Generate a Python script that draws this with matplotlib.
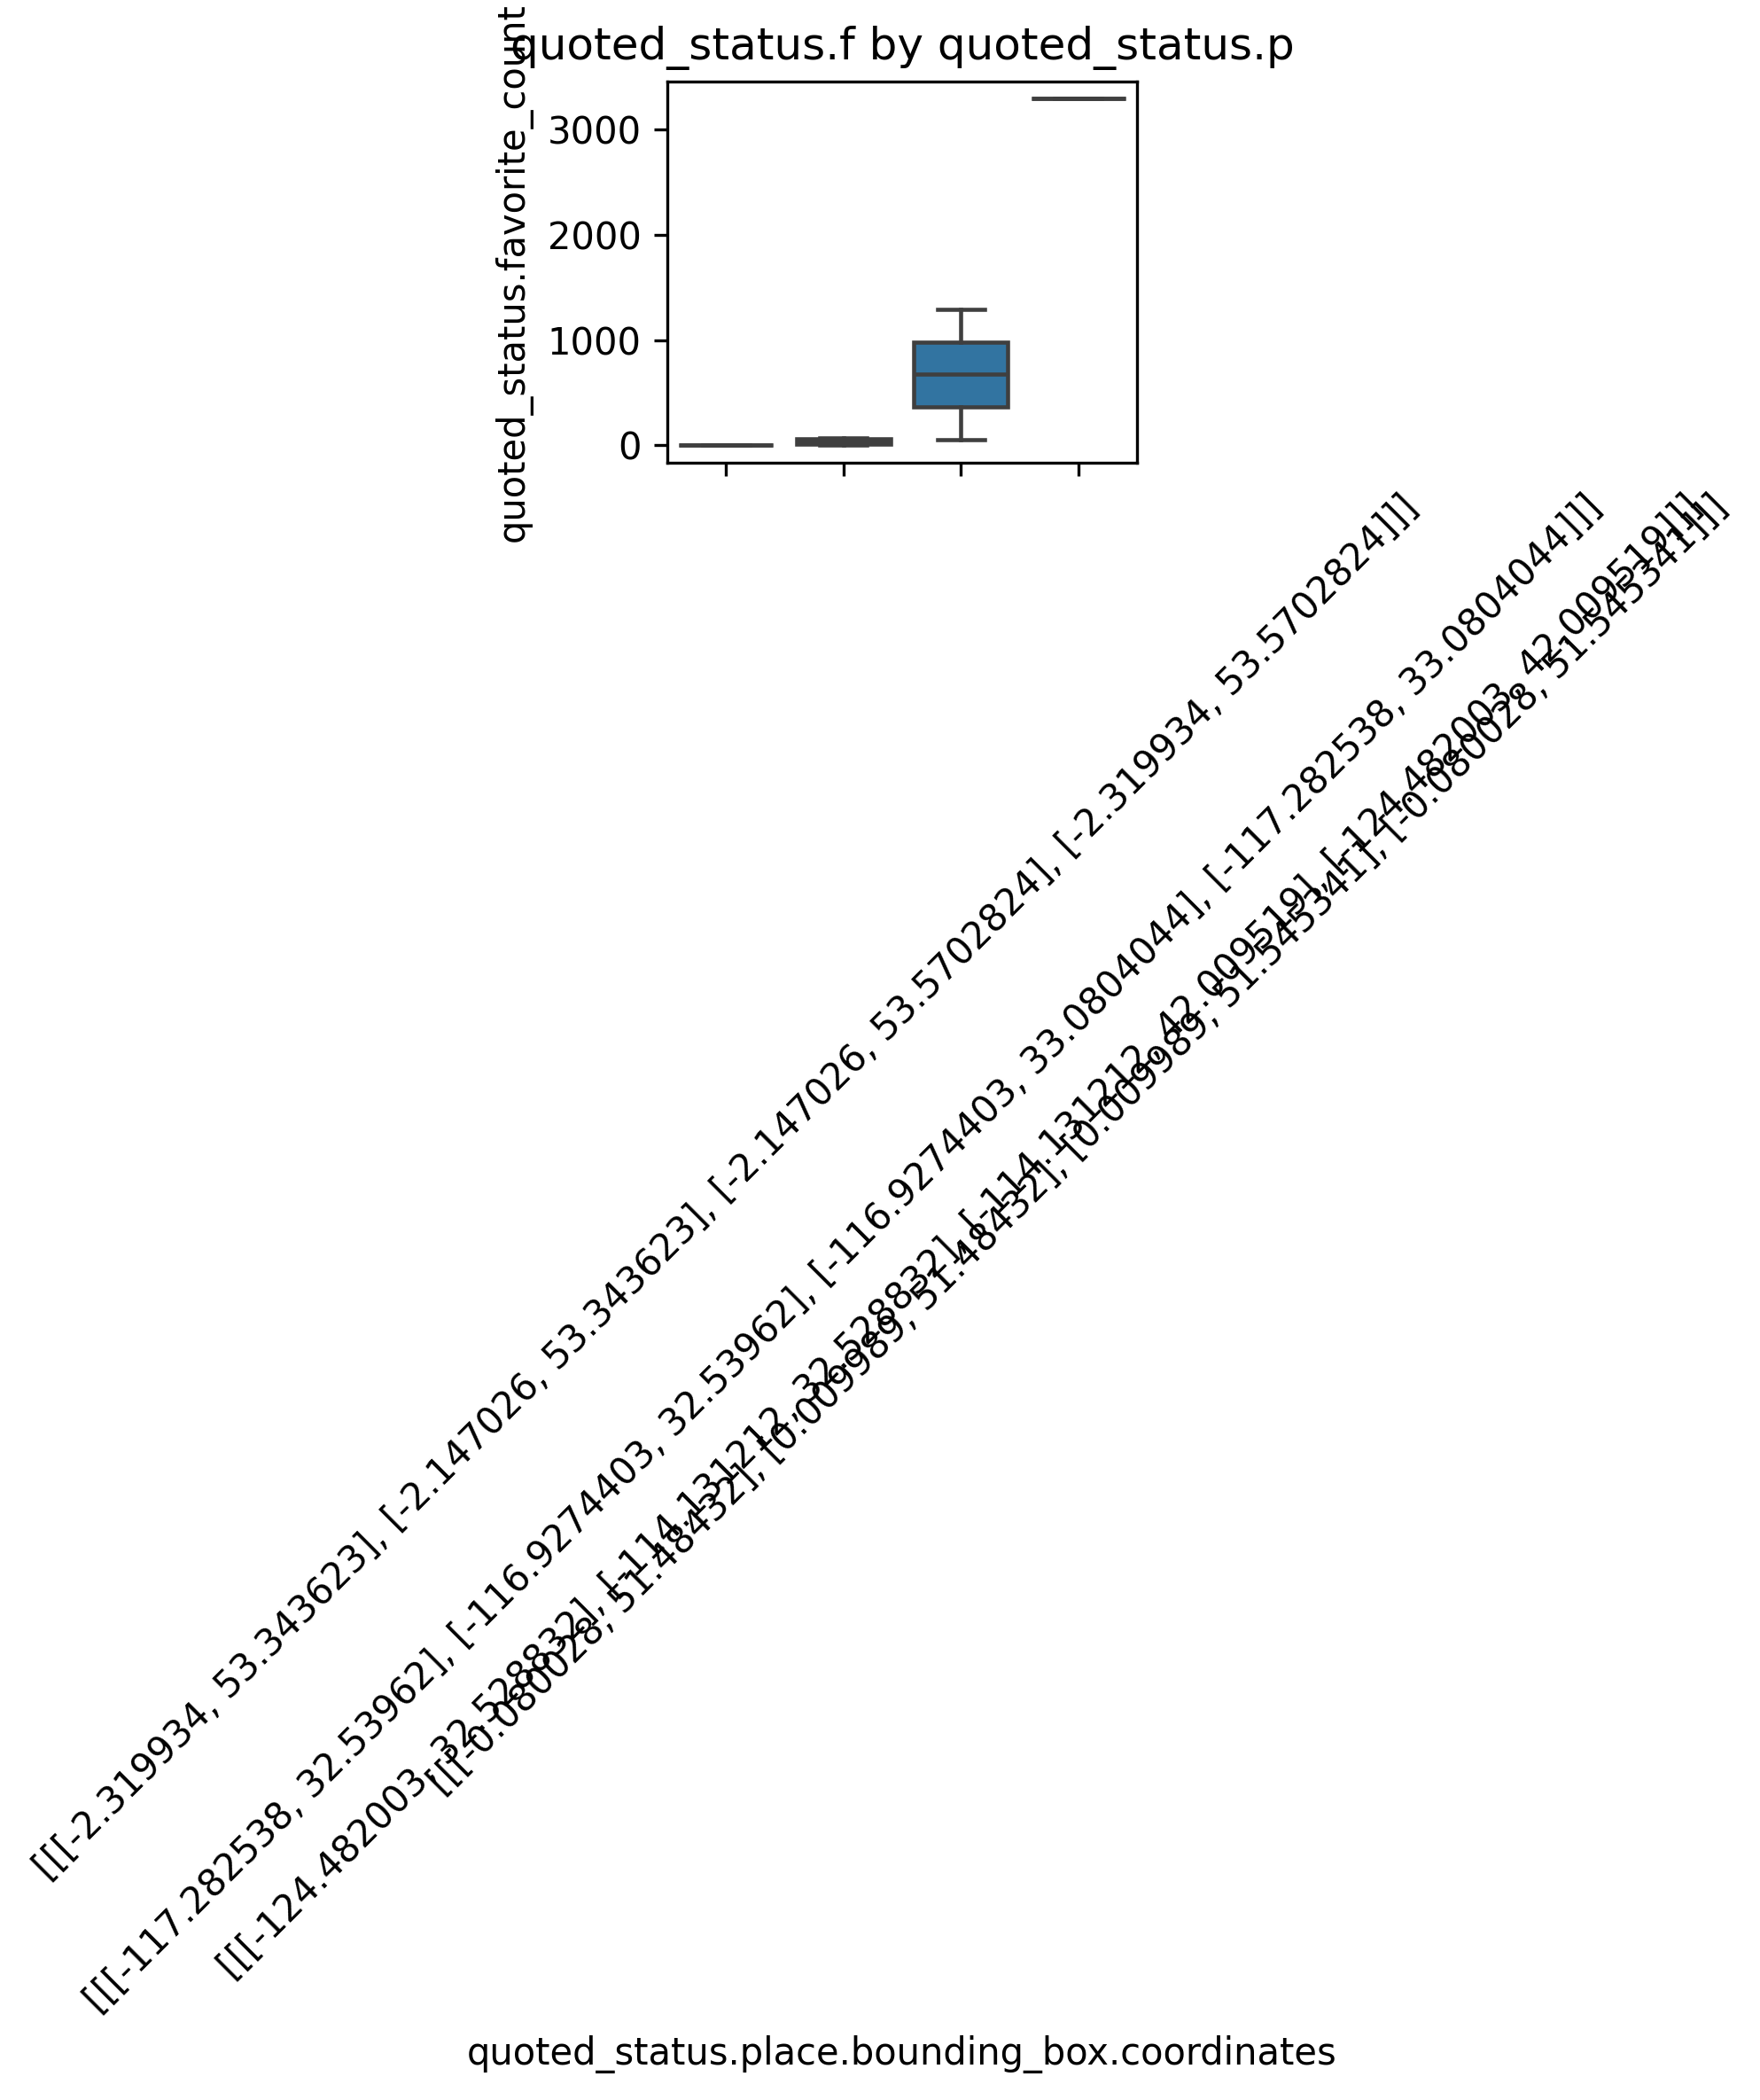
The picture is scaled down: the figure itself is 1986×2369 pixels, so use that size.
import matplotlib
matplotlib.use("Agg")
import matplotlib.pyplot as plt

# categories (bounding box coordinates as strings)
cats = [
    "[[[-2.319934, 53.343623], [-2.147026, 53.343623], [-2.147026, 53.5702824], [-2.319934, 53.5702824]]]",
    "[[[-117.282538, 32.53962], [-116.9274403, 32.53962], [-116.9274403, 33.0804044], [-117.282538, 33.0804044]]]",
    "[[[-124.482003, 32.528832], [-114.131212, 32.528832], [-114.131212, 42.009519], [-124.482003, 42.009519]]]",
    "[[[-0.080028, 51.48432], [0.009989, 51.48432], [0.009989, 51.545341], [-0.080028, 51.545341]]]",
]

# box statistics
whis_lo = [0, 4, 53, 3290]
q1 = [0, 14, 367, 3290]
med = [0, 38, 675, 3290]
q3 = [0, 62, 977, 3290]
whis_hi = [0, 72, 1291, 3290]

stats = []
for i in range(len(cats)):
    stats.append(dict(whislo=whis_lo[i], q1=q1[i], med=med[i], q3=q3[i],
                      whishi=whis_hi[i], fliers=[], label=cats[i]))

fig = plt.figure(figsize=(1986 / 300, 2369 / 300), dpi=300)
ax = fig.add_axes([0.3792, 0.7797, 0.2668, 0.1815])

line_col = "#3f3f3f"
lw = 1.1
pos = list(range(len(cats)))
ax.bxp(stats, positions=pos, widths=0.8, patch_artist=True, showfliers=False,
       boxprops=dict(facecolor="#3274a1", edgecolor=line_col, linewidth=lw),
       medianprops=dict(color=line_col, linewidth=lw),
       whiskerprops=dict(color=line_col, linewidth=lw),
       capprops=dict(color=line_col, linewidth=lw),
       manage_ticks=False)

ax.set_xlim(-0.5, len(cats) - 0.5)
ax.set_xticks(pos)
ax.set_xticklabels(cats, rotation=45)
ax.set_title("quoted_status.f by quoted_status.p")
ax.set_ylabel("quoted_status.favorite_count")
ax.set_xlabel("quoted_status.place.bounding_box.coordinates")

fig.savefig("out.png", dpi=300)
